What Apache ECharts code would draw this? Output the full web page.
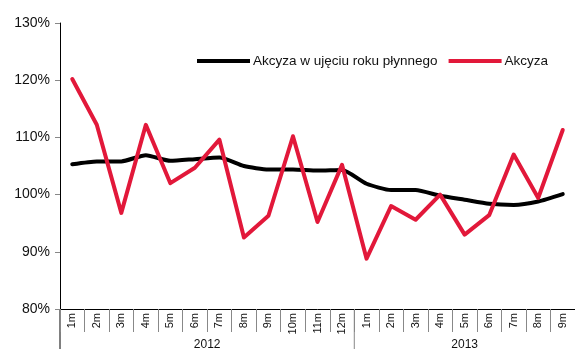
<!DOCTYPE html>
<html>
<head>
<meta charset="utf-8">
<script src="https://cdn.jsdelivr.net/npm/echarts@6/dist/echarts.min.js"></script>
<style>
  html, body { margin: 0; padding: 0; background: #fff; }
  #chart { width: 575px; height: 349px; }
</style>
</head>
<body>
<div id="chart"></div>
<script>
// Monthly categories (2012: 1m-12m, 2013: 1m-9m)
const months = ['1m','2m','3m','4m','5m','6m','7m','8m','9m','10m','11m','12m',
                '1m','2m','3m','4m','5m','6m','7m','8m','9m'];
const yearLabels = ['2012', '2013'];
const yearCounts = [12, 9];

// Excise revenue, % y/y — rolling-year basis
const rollingYear = [105.3, 105.8, 105.8, 106.9, 105.9, 106.2, 106.5, 105.0, 104.4, 104.4, 104.2, 104.3,
                     101.9, 100.8, 100.8, 99.8, 99.1, 98.4, 98.2, 98.8, 100.1];
// Excise revenue, % y/y — monthly
const monthly = [120.2, 112.2, 96.8, 112.2, 102.0, 104.7, 109.6, 92.5, 96.3, 110.2, 95.2, 105.2,
                 88.8, 98.0, 95.6, 100.0, 93.0, 96.4, 107.0, 99.4, 111.3];

const yTicks = { min: 80, max: 130, step: 10 };

const FONT = 'Liberation Sans, Arial, sans-serif';
const chart = echarts.init(document.getElementById('chart'), null, { renderer: 'canvas' });

chart.setOption({
  animation: false,
  textStyle: { fontFamily: FONT },
  grid: { left: 60, right: 0, top: 23, bottom: 40, containLabel: false },
  legend: {
    left: 192, top: 49,
    itemWidth: 53, itemHeight: 4, itemGap: 11,
    icon: 'rect',
    textStyle: { fontFamily: FONT, fontSize: 13.5, color: '#111', padding: [0, 0, 0, -2] },
    data: ['Akcyza w ujęciu roku płynnego', 'Akcyza']
  },
  xAxis: {
    type: 'category',
    data: months,
    boundaryGap: true,
    axisLine: { lineStyle: { color: '#000', width: 1 } },
    axisTick: { show: true, interval: 0, length: 23, lineStyle: { color: '#888' } },
    axisLabel: { interval: 0, rotate: 90, margin: 4, fontSize: 11, color: '#111', fontFamily: FONT },
    splitLine: { show: false }
  },
  yAxis: {
    type: 'value',
    min: yTicks.min, max: yTicks.max, interval: yTicks.step,
    axisLine: { show: true, lineStyle: { color: '#000', width: 1 } },
    axisTick: { show: true, length: 5, lineStyle: { color: '#888' } },
    axisLabel: { formatter: '{value}%', fontSize: 14, color: '#111', margin: 10, fontFamily: FONT },
    splitLine: { show: false }
  },
  series: [
    {
      name: 'Akcyza w ujęciu roku płynnego',
      type: 'line',
      data: rollingYear,
      smooth: 0.2,
      symbol: 'none',
      color: '#000',
      lineStyle: { color: '#000', width: 4, cap: 'round', join: 'round' },
      z: 3
    },
    {
      name: 'Akcyza',
      type: 'line',
      data: monthly,
      symbol: 'none',
      color: '#e2183a',
      lineStyle: { color: '#e2183a', width: 4, cap: 'round', join: 'round' },
      z: 4
    }
  ]
});

// Year group separators and labels below the month labels
function drawYearGroups() {
  const c0 = chart.convertToPixel({ xAxisIndex: 0 }, 0);
  const c1 = chart.convertToPixel({ xAxisIndex: 0 }, 1);
  const band = c1 - c0;
  const axisY = chart.convertToPixel({ yAxisIndex: 0 }, yTicks.min);
  const elements = [];
  let start = 0;
  yearCounts.forEach((count, i) => {
    const left = c0 - band / 2 + start * band;
    const right = left + count * band;
    if (i > 0) {
      elements.push({
        type: 'line',
        shape: { x1: left, y1: axisY, x2: left, y2: 349 },
        style: { stroke: '#888', lineWidth: 1 }
      });
    }
    elements.push({
      type: 'text',
      x: (left + right) / 2, y: axisY + 30,
      style: { text: yearLabels[i], fill: '#111', font: '12px ' + FONT, textAlign: 'center', textVerticalAlign: 'top' }
    });
    start += count;
  });
  elements.push({
    type: 'line',
    shape: { x1: c0 - band / 2, y1: axisY, x2: c0 - band / 2, y2: 349 },
    style: { stroke: '#000', lineWidth: 1 }
  });
  chart.setOption({ graphic: { elements } });
}
drawYearGroups();
</script>
</body>
</html>
